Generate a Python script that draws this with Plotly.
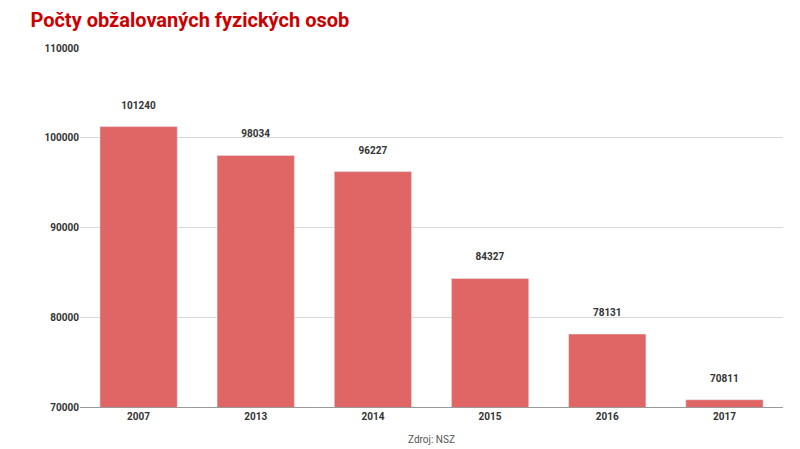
import plotly.graph_objects as go

years = ["2007", "2013", "2014", "2015", "2016", "2017"]
counts = [101240, 98034, 96227, 84327, 78131, 70811]

fig = go.Figure(go.Bar(
    x=years, y=counts,
    marker_color="#e06666",
    text=["<b>%d</b><br> " % v for v in counts],
    textposition="outside",
    textfont=dict(size=10, color="#333333", family="Roboto"),
    cliponaxis=False,
))

fig.update_layout(
    width=800, height=449,
    margin=dict(l=72, r=25, t=40, b=50),
    paper_bgcolor="white", plot_bgcolor="white",
    font=dict(family="Roboto", size=10, color="#444444"),
    bargap=0.34,
    showlegend=False,
    title=dict(text="<b>Počty obžalovaných fyzických osob</b>",
               x=0.028, xanchor="left", y=0.99, yanchor="top",
               font=dict(size=20, color="#cc0000", family="Roboto")),
    annotations=[dict(text="Zdroj: NSZ", x=0.5, xref="paper", y=-0.07,
                      yref="paper", showarrow=False, yanchor="top",
                      font=dict(size=10, color="#555555"))],
)
fig.update_xaxes(showgrid=False, tickfont=dict(size=10, color="#333333"),
                 tickprefix="<b>", ticksuffix="</b>",
                 showline=True, linecolor="#999999", ticks="")
fig.update_yaxes(range=[70000, 110000], dtick=10000, gridcolor="#d9d9d9",
                 zeroline=False, tickfont=dict(size=10, color="#333333"),
                 tickprefix="<b>", ticksuffix="</b>", tickformat="d")

fig.write_html("out.html")
